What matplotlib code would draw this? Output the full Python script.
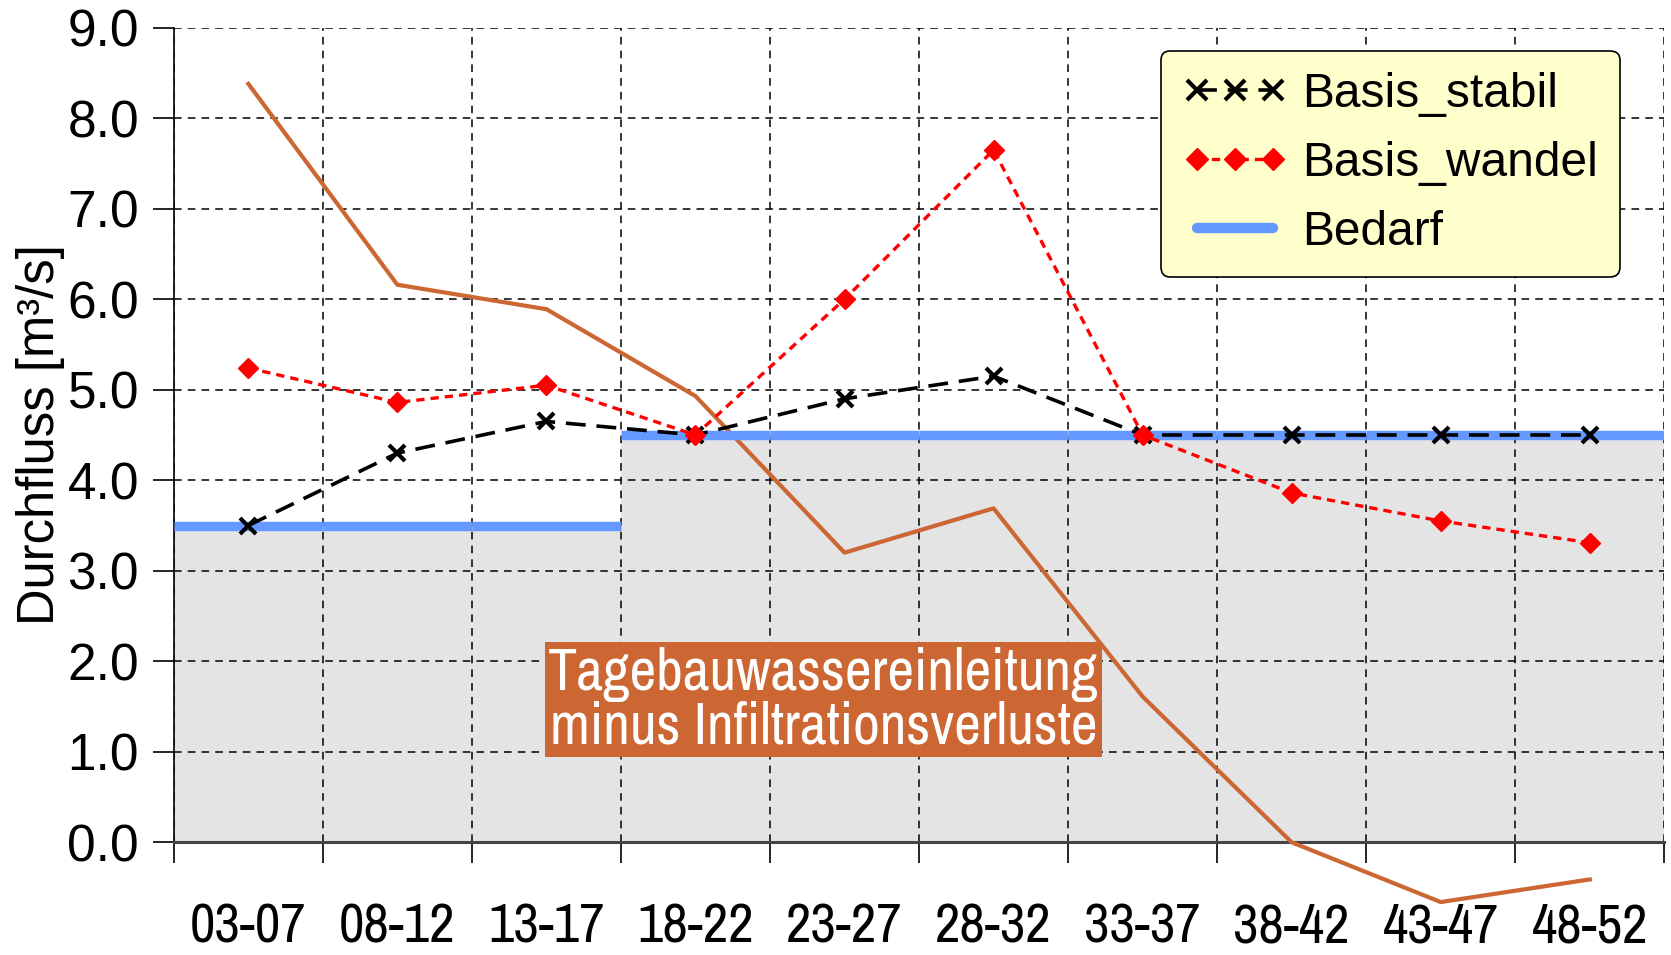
import matplotlib
matplotlib.use('agg')
import matplotlib.pyplot as plt
import numpy as np

#Daten
kategorien = ["03-07", "08-12", "13-17", "18-22", "23-27", "28-32", "33-37", "38-42", "43-47", "48-52"]
basis_stabil = [3.5, 4.3, 4.65, 4.5, 4.9, 5.15, 4.5, 4.5, 4.5, 4.5]
basis_wandel = [5.24, 4.86, 5.05, 4.5, 6.0, 7.65, 4.5, 3.86, 3.55, 3.31]
bedarf = [3.5, 3.5, 3.5, 4.5, 4.5, 4.5, 4.5, 4.5, 4.5, 4.5]
tagebau = [8.38, 6.16, 5.89, 4.93, 3.2, 3.69, 1.61, 0.0, -0.66, -0.41]
yticks = np.arange(0, 9.5, 1.0)

narrow = ['Archivo Narrow', 'Liberation Sans', 'DejaVu Sans']
plt.rcParams['font.family'] = ['Liberation Sans', 'DejaVu Sans']

fig = plt.figure(figsize=(16.71, 9.55), dpi=100)
ax = fig.add_axes([0.104, 0.118, 0.892, 0.853])

x = np.arange(len(kategorien))

# grauer Bereich unter dem Bedarf
ax.bar(x, bedarf, width=1.0, color='#e4e4e4', zorder=0)

ax.plot(x, tagebau, color='#cc6633', lw=3.0, clip_on=False, zorder=3)

for i in range(len(x)):
    ax.hlines(bedarf[i], x[i]-0.5, x[i]+0.5, color='#6699ff', lw=6.8, zorder=4)
bedarf_handle, = ax.plot([], [], color='#6699ff', lw=7.5, solid_capstyle='round')

l1, = ax.plot(x, basis_stabil, color='black', lw=2.6, dashes=(5.5, 3), marker='x',
              markersize=12, markeredgewidth=3, zorder=5)
l2, = ax.plot(x, basis_wandel, color='#ff0000', lw=2.4, dashes=(2.5, 1.8), marker='D',
              markersize=10, zorder=6)

ax.set_xlim(-0.5, len(x)-0.5)
ax.set_ylim(0, 9)
ax.set_yticks(yticks)
ax.set_yticklabels(["%.1f" % v for v in yticks], fontsize=37)
ax.set_xticks(np.arange(-0.5, len(x), 1.0))
ax.set_xticklabels([])
ax.set_xticks(x, minor=True)
ax.set_xticklabels(kategorien, minor=True, fontsize=40, family=narrow)
ax.tick_params(axis='x', which='minor', length=0, pad=43)
ax.tick_params(axis='x', which='major', length=15, width=1.2, direction='out')
ax.tick_params(axis='y', length=15, width=1.2, direction='out', pad=10)

ax.grid(True, which='major', color='black', linestyle=(0, (5, 4)), lw=1.1, zorder=1)
ax.set_axisbelow(True)
ax.spines['top'].set_visible(False)
ax.spines['right'].set_visible(False)
ax.spines['bottom'].set_linewidth(2.2)
ax.spines['bottom'].set_color('#444444')
ax.spines['left'].set_linewidth(1.2)

ax.set_ylabel("Durchfluss [m³/s]", fontsize=36.5, labelpad=2)

ax.text(3.86, 1.57, "Tagebauwassereinleitung\nminus Infiltrationsverluste", color='white',
        fontsize=42, family=narrow, ha='center', va='center', linespacing=0.95, zorder=7,
        bbox=dict(boxstyle='square,pad=0.06', facecolor='#cc6633', edgecolor='none'))

leg = ax.legend([l1, l2, bedarf_handle], ["Basis_stabil", "Basis_wandel", "Bedarf"],
                loc='upper right', bbox_to_anchor=(0.97, 0.972), fontsize=34.5,
                numpoints=3, handlelength=2.2, handletextpad=0.3, labelspacing=0.5,
                borderpad=0.45, borderaxespad=0, fancybox=True, framealpha=1.0,
                markerscale=1.15)
leg.get_frame().set_facecolor('#ffffcc')
leg.get_frame().set_edgecolor('black')
leg.get_frame().set_linewidth(1.2)
leg.set_zorder(10)

fig.savefig('out.png', dpi=100)
